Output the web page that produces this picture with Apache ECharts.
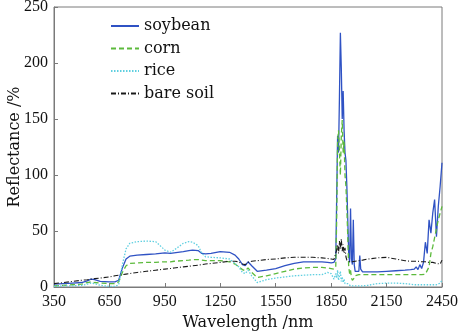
<!DOCTYPE html>
<html>
<head>
<meta charset="utf-8">
<style>
  html, body { margin: 0; padding: 0; background: #fff; }
  #chart { width: 460px; height: 336px; }
</style>
<script src="https://cdn.jsdelivr.net/npm/echarts@6/dist/echarts.min.js"></script>
</head>
<body>
<div id="chart"></div>
<script>
// Sampling wavelengths (nm), shared by all four spectra
const wavelength = [
  350, 400, 450, 500, 530, 550, 570, 600, 650, 680,
  700, 720, 740, 760, 800, 850, 900, 950, 980, 1000,
  1050, 1080, 1100, 1130, 1150, 1170, 1200, 1250, 1300, 1330,
  1350, 1370, 1385, 1400, 1420, 1450, 1500, 1550, 1600, 1650,
  1700, 1750, 1800, 1830, 1850, 1865, 1875, 1880, 1885, 1890,
  1895, 1900, 1905, 1910, 1915, 1920, 1925, 1930, 1935, 1940,
  1945, 1950, 1955, 1960, 1965, 1970, 1975, 1980, 1990, 2000,
  2005, 2010, 2020, 2050, 2100, 2150, 2200, 2250, 2280, 2300,
  2310, 2320, 2330, 2340, 2350, 2360, 2370, 2380, 2390, 2400,
  2410, 2420, 2430, 2440, 2450
];

// Reflectance (%) per land cover
const soybean = [
  2.5, 3, 3.5, 4, 5.5, 7, 6.5, 5, 4.5, 4.5,
  6, 17, 25, 27.5, 28.5, 29, 29.5, 30.5, 30, 30.5,
  31.5, 32.5, 33, 32.5, 30, 29.5, 30, 31.5, 31, 28.5,
  25, 20, 19, 22.5, 19, 14, 15, 16.5, 19, 21,
  22.5, 22.5, 22.5, 22, 21.5, 22, 25, 80, 135, 120,
  170, 227, 195, 150, 175, 140, 120, 113, 90, 60,
  30, 22, 70, 25, 20, 60, 20, 14, 13, 14,
  28, 16, 13.5, 13.5, 13.5, 14, 14.5, 15, 15.5, 16,
  18, 15.5, 20, 16.5, 22, 40, 30, 60, 48, 66,
  78, 45, 72, 90, 111
];
const corn = [
  1, 1.5, 2, 2.5, 4, 4.5, 4, 3.5, 3, 3,
  4.5, 13, 19, 21, 21.5, 22, 22, 22.5, 22.5, 23,
  23.5, 24, 24.5, 24.5, 24, 23.5, 23.5, 23.5, 22.5, 20.5,
  18, 15.5, 14.5, 17, 13, 8.5, 10, 12, 14, 16,
  17, 17.5, 17.5, 17, 16.5, 16, 18, 60, 130, 140,
  120, 100, 135, 149, 120, 130, 100, 90, 70, 45,
  18, 12, 15, 8, 6, 5, 8, 10, 11, 11,
  11, 11, 11, 11, 11, 11, 11, 11, 11, 11,
  11, 11, 11, 11, 11, 11.5, 12, 18, 30, 36,
  44, 52, 60, 66, 72
];
const rice = [
  0.5, 1, 1, 1.5, 2.5, 3.5, 3, 1.5, 0.5, 0.5,
  2, 20, 34, 39, 40.5, 41, 40.5, 33, 31, 33,
  39, 40.5, 40, 37, 30, 27, 26.5, 26, 25, 21,
  18, 13, 12, 15, 10, 4, 6.5, 8, 9, 10,
  10.5, 11, 11, 13, 12, 7, 12, 8, 15, 6,
  10, 14, 5, 9, 4, 7, 3, 4, 2, 3,
  1.5, 1.5, 1, 1, 1, 1, 1, 1, 1, 1,
  1, 1, 1, 1.5, 3, 3.5, 3.5, 3, 2.5, 2,
  2, 2, 2, 2, 2, 2, 2, 2, 2, 2,
  2, 2, 2.5, 3.5, 6
];
const bareSoil = [
  3, 4, 5, 6, 6.5, 7, 7.5, 8, 9, 10,
  10.5, 11, 11.5, 12, 13, 14, 15, 16, 16.5, 17,
  18, 18.5, 19, 19.5, 20, 20.5, 21, 22, 23, 23,
  22.5, 20.5, 20, 22, 23, 23.5, 24.5, 25, 26, 26.5,
  26.5, 26.5, 26, 25.5, 25, 24.5, 26, 33, 38, 30,
  41, 34, 43, 32, 38, 30, 35, 27, 24, 23,
  22.5, 22.5, 22.5, 22.5, 22.5, 22.5, 23, 23, 23, 23.5,
  23.5, 23.5, 24, 25, 26, 26.5, 25, 23.5, 23, 23,
  23, 23, 22.5, 22.5, 22.5, 22.5, 22, 22, 22, 22,
  21.5, 21, 21, 20.5, 24
];

const seriesNames = ['soybean', 'corn', 'rice', 'bare soil'];
const xTicks = [350, 650, 950, 1250, 1550, 1850, 2150, 2450];

const pair = vals => wavelength.map((w, i) => [w, vals[i]]);
const serif = "'DejaVu Serif', 'Liberation Serif', serif";
const tickFont = "'Liberation Serif', 'DejaVu Serif', serif";

const chart = echarts.init(document.getElementById('chart'), null, { renderer: 'canvas' });

const styles = [
  { color: '#2f52c4', type: 'solid', width: 1.3 },
  { color: '#5cba3c', type: [5, 3], width: 1.3 },
  { color: '#5fcfe0', type: [1.5, 1.5], width: 1.3 },
  { color: '#1a1a1a', type: [5, 2, 1, 2], width: 1.1 }
];
const values = [soybean, corn, rice, bareSoil];

chart.setOption({
  animation: false,
  backgroundColor: '#fff',
  grid: {
    left: 54, right: 18, top: 7, bottom: 49,
    outerBoundsMode: 'none',
    containLabel: false,
    show: true, borderColor: '#7a7a7a', borderWidth: 1
  },
  legend: {
    orient: 'vertical',
    left: 105, top: 13,
    itemWidth: 28, itemHeight: 14, itemGap: 6.5,
    itemStyle: { opacity: 0 },
    textStyle: { fontFamily: serif, fontSize: 16, color: '#111' },
    data: seriesNames
  },
  xAxis: {
    type: 'value',
    min: 350, max: 2450,
    name: 'Wavelength /nm',
    nameLocation: 'middle',
    nameGap: 24,
    nameTextStyle: { fontFamily: serif, fontSize: 16, color: '#111' },
    axisLine: { show: true, lineStyle: { color: '#7a7a7a' } },
    axisTick: { inside: true, length: 4, customValues: xTicks, lineStyle: { color: '#7a7a7a' } },
    axisLabel: {
      customValues: xTicks, formatter: v => String(v),
      fontFamily: tickFont, fontSize: 16, color: '#111', margin: 7
    },
    splitLine: { show: false }
  },
  yAxis: {
    type: 'value',
    min: 0, max: 250, interval: 50,
    name: 'Reflectance /%',
    nameLocation: 'middle',
    nameGap: 31,
    nameMoveOverlap: false,
    nameTextStyle: { fontFamily: serif, fontSize: 16, color: '#111' },
    axisLine: { show: true, lineStyle: { color: '#7a7a7a' } },
    axisTick: { inside: true, length: 4, lineStyle: { color: '#7a7a7a' } },
    axisLabel: { formatter: v => String(v), fontFamily: tickFont, fontSize: 16, color: '#111', margin: 6 },
    splitLine: { show: false }
  },
  series: seriesNames.map((name, k) => ({
    name,
    type: 'line',
    data: pair(values[k]),
    symbol: 'none',
    lineStyle: styles[k],
    itemStyle: { color: styles[k].color },
    z: 2 + k
  }))
});
</script>
</body>
</html>
